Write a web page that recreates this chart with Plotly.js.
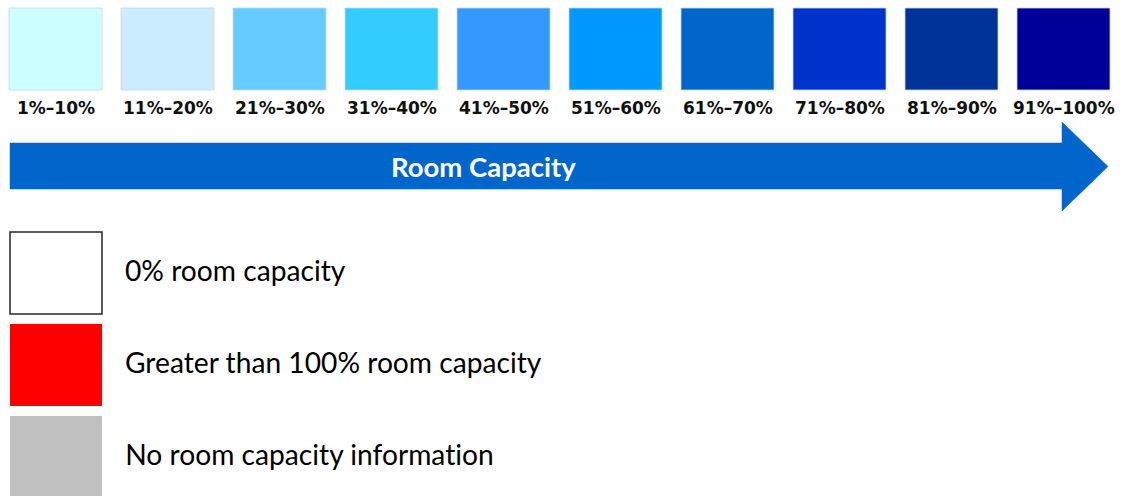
<!DOCTYPE html>
<html>
<head>
<meta charset="utf-8">
<script src="https://cdn.plot.ly/plotly-3.0.1.min.js"></script>
<style>
  html, body { margin: 0; padding: 0; background: #ffffff; }
  #chart { width: 1122px; height: 496px; }
  #chart text { font-variant-ligatures: none; font-feature-settings: "liga" 0, "clig" 0; }
</style>
</head>
<body>
<div id="chart"></div>
<script>
// Capacity bins (top row)
const binLabels = ["1%\u201310%", "11%\u201320%", "21%\u201330%", "31%\u201340%", "41%\u201350%",
                   "51%\u201360%", "61%\u201370%", "71%\u201380%", "81%\u201390%", "91%\u2013100%"];
const binColors = ["#CCFFFF", "#CCECFF", "#66CCFF", "#33CCFF", "#3399FF",
                   "#0099FF", "#0066CC", "#0033CC", "#003399", "#000099"];
// Arrow caption
const arrowLabel = "Room Capacity";
// Special categories (bottom)
const specialLabels = ["0% room capacity", "Greater than 100% room capacity", "No room capacity information"];
const specialColors = ["#FFFFFF", "#FF0000", "#C0C0C0"];
const specialBorders = ["#262626", "#FF0000", "#C0C0C0"];

// Layout geometry (pixels)
const W = 1122, H = 496;
const sqX0 = 9, sqPitch = 112, sqW = 93, sqY0 = 8, sqY1 = 90, labelY = 108;
const arrow = {x0: 10, x1: 1062, y0: 143, y1: 189, hy0: 122, hy1: 211, tip: 1108};
const boxX0 = 10, boxX1 = 102, boxY0 = 232, boxH = 82, boxPitch = 92, textX = 123;

const shapes = [];
const annotations = [];

binLabels.forEach((lab, i) => {
  const x0 = sqX0 + i * sqPitch;
  shapes.push({type: "rect", xref: "x", yref: "y", x0: x0, x1: x0 + sqW, y0: sqY0, y1: sqY1,
               fillcolor: binColors[i], line: {color: "rgba(205,212,230,0.8)", width: 1}, layer: "above"});
  annotations.push({xref: "x", yref: "y", x: x0 + sqW / 2, y: labelY, text: "<b>" + lab + "</b>",
                    showarrow: false, xanchor: "center", yanchor: "middle",
                    font: {family: "DejaVu Sans", size: 17, color: "#111111"}});
});

const cy = (arrow.hy0 + arrow.hy1) / 2;
shapes.push({type: "path", xref: "x", yref: "y",
  path: `M ${arrow.x0} ${arrow.y0} L ${arrow.x1} ${arrow.y0} L ${arrow.x1} ${arrow.hy0} L ${arrow.tip} ${cy} L ${arrow.x1} ${arrow.hy1} L ${arrow.x1} ${arrow.y1} L ${arrow.x0} ${arrow.y1} Z`,
  fillcolor: "#0066CC", line: {color: "#0066CC", width: 0.5}, layer: "above"});
annotations.push({xref: "x", yref: "y", x: 483, y: 166, text: "<b>" + arrowLabel + "</b>", showarrow: false,
                  xanchor: "center", yanchor: "middle", font: {family: "Lato", size: 27.5, color: "#FFFFFF"}});

specialLabels.forEach((lab, i) => {
  const y0 = boxY0 + i * boxPitch;
  shapes.push({type: "rect", xref: "x", yref: "y", x0: boxX0, x1: boxX1, y0: y0, y1: y0 + boxH,
               fillcolor: specialColors[i], line: {color: specialBorders[i], width: i === 0 ? 1.5 : 0}, layer: "above"});
  annotations.push({xref: "x", yref: "y", x: textX, y: y0 + boxH / 2 - 3, text: lab, showarrow: false,
                    xanchor: "left", yanchor: "middle", font: {family: "Lato", size: 28.2, color: "#000000"}});
});

const layout = {
  width: W, height: H,
  margin: {l: 0, r: 0, t: 0, b: 0, pad: 0},
  paper_bgcolor: "#FFFFFF", plot_bgcolor: "#FFFFFF",
  xaxis: {range: [0, W], visible: false, fixedrange: true},
  yaxis: {range: [H, 0], visible: false, fixedrange: true},
  showlegend: false,
  shapes: shapes,
  annotations: annotations
};

Plotly.newPlot("chart", [{type: "scatter", x: [], y: [], mode: "markers", hoverinfo: "skip"}], layout,
               {staticPlot: true, displayModeBar: false});
</script>
</body>
</html>
